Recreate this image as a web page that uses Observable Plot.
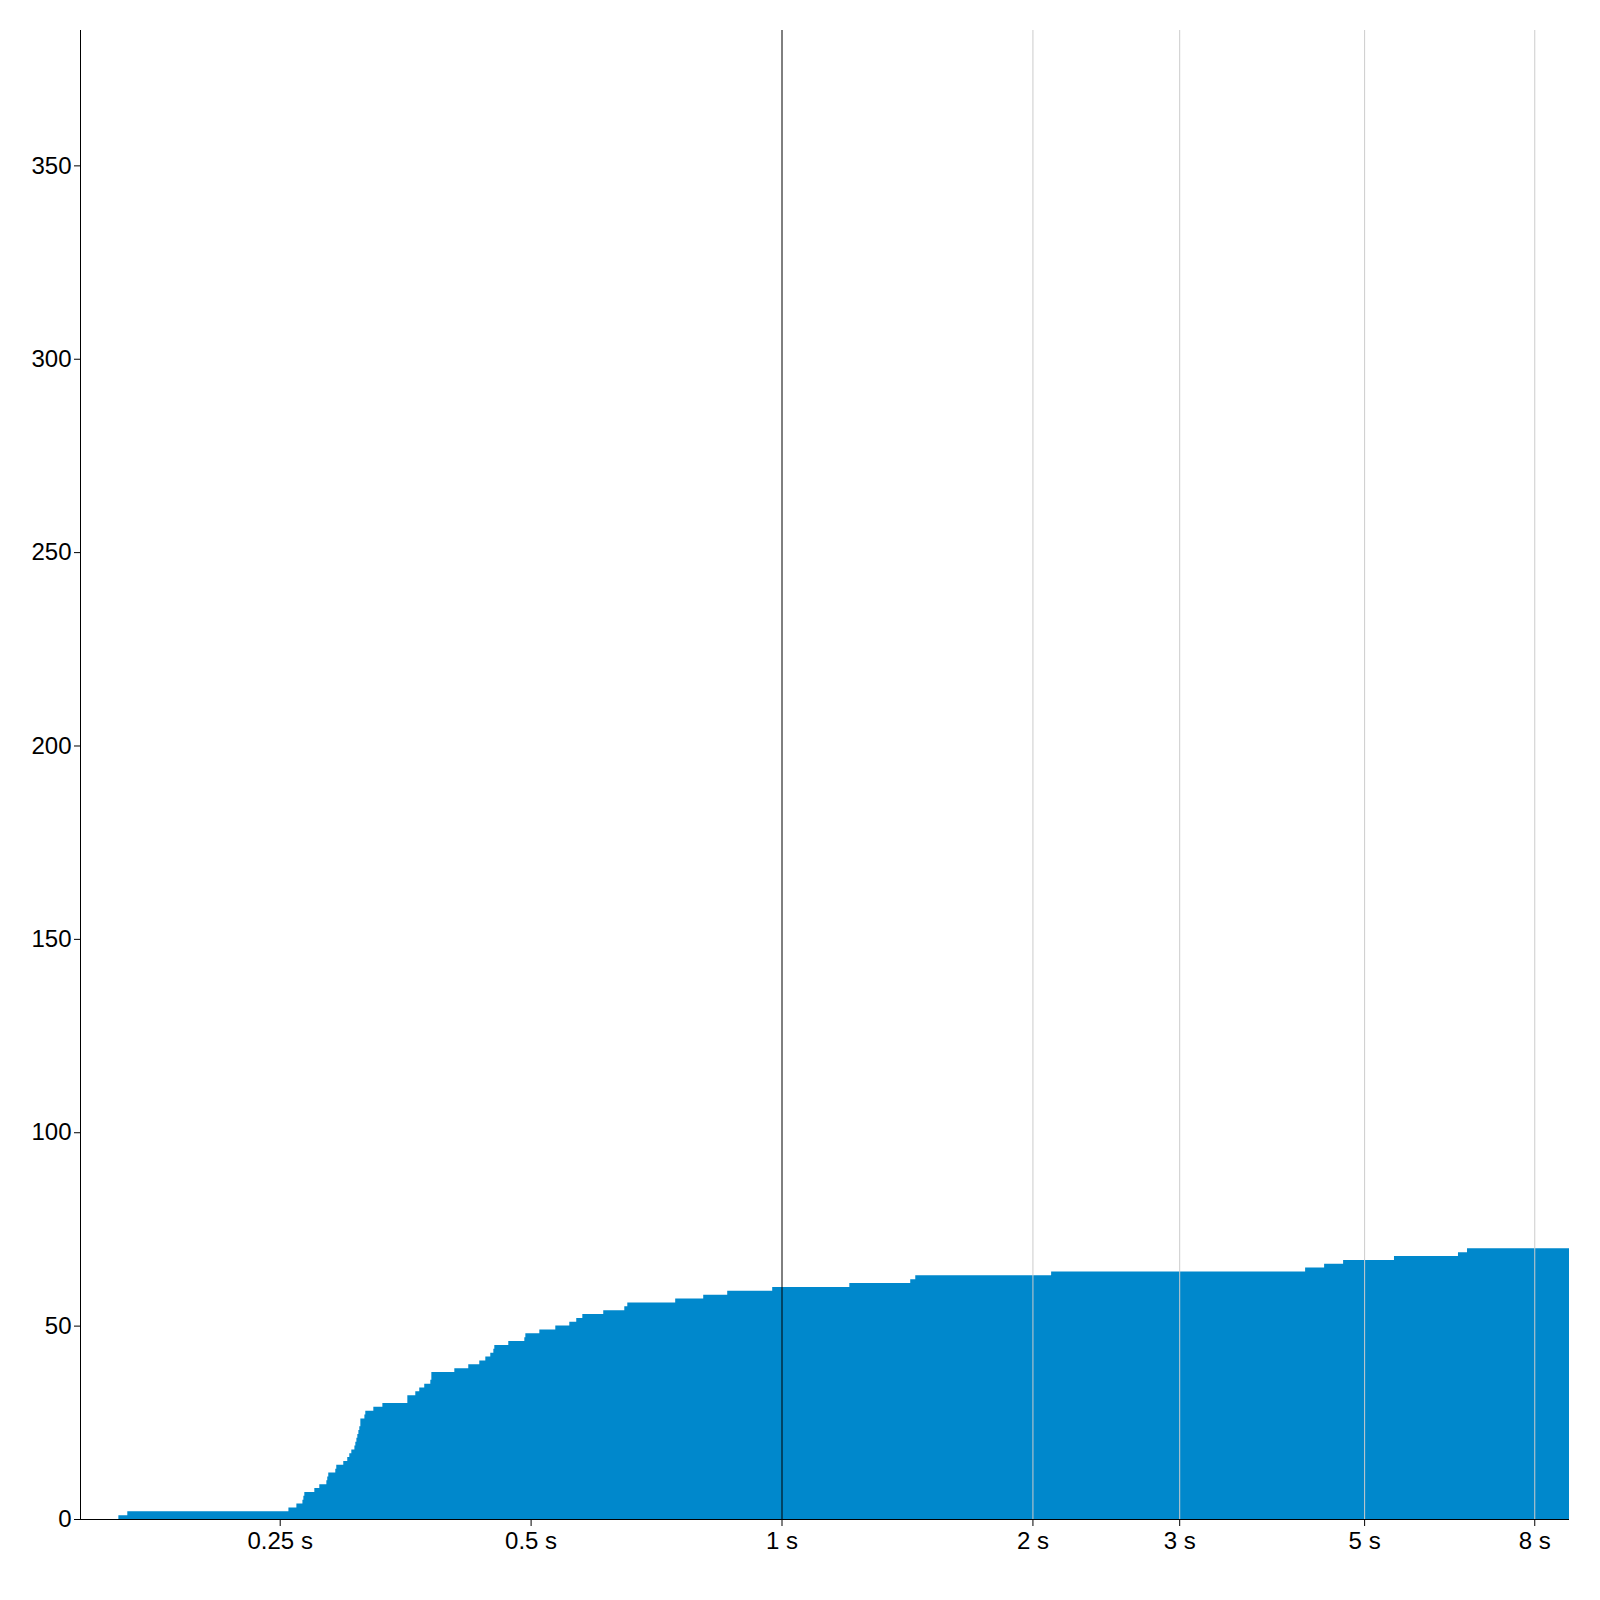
<!DOCTYPE html>
<html><head><meta charset="utf-8">
<script src="https://cdn.jsdelivr.net/npm/d3@7"></script>
<script src="https://cdn.jsdelivr.net/npm/@observablehq/plot@0.6"></script>
<style>body{margin:0;background:#fff}</style>
</head><body><div id="chart"></div>
<script>
const durations = [0.1601,0.1641,0.2561,0.2618,0.2662,0.2669,0.2676,0.2751,0.2789,0.2844,0.2851,0.2859,0.2915,0.2923,0.2980,0.3013,0.3030,0.3047,0.3073,0.3081,0.3090,0.3098,0.3107,0.3115,0.3124,0.3159,0.3167,0.3238,0.3320,0.3557,0.3636,0.3676,0.3727,0.3790,0.3801,0.4050,0.4209,0.4339,0.4412,0.4473,0.4511,0.4523,0.4701,0.4914,0.4928,0.5122,0.5353,0.5564,0.5672,0.5768,0.6111,0.6477,0.6531,0.7455,0.8055,0.8607,0.9746,1.206,1.427,1.447,2.106,4.248,4.477,4.718,5.430,6.480,6.644,8.806];
const counts = [1,2,3,4,5,6,7,8,9,10,11,12,13,14,15,16,17,18,19,20,21,22,23,24,26,27,28,29,30,32,33,34,35,36,38,39,40,41,42,43,44,45,46,47,48,49,50,51,52,53,54,55,56,57,58,59,60,61,62,63,64,65,66,67,68,69,70,70];
const xTicks = [0.25, 0.5, 1, 2, 3, 5, 8];
const xTickLabels = ["0.25 s", "0.5 s", "1 s", "2 s", "3 s", "5 s", "8 s"];
const gridTicks = [2, 3, 5, 8];
const refTick = [1];
const yTicks = [0, 50, 100, 150, 200, 250, 300, 350];
const xDomain = [0.144, 8.806];
const yDomain = [0, 385];

const data = durations.map((d, i) => ({duration: d, count: counts[i]}));
const xLabelData = xTicks.map((t, i) => ({t, label: xTickLabels[i]}));

const chart = Plot.plot({
  width: 1600, height: 1600,
  marginLeft: 80, marginRight: 31, marginTop: 30, marginBottom: 81,
  style: {fontFamily: "'Liberation Sans', Arial, sans-serif", fontSize: "24px", background: "#fff", color: "#000"},
  x: {type: "log", domain: xDomain},
  y: {domain: yDomain},
  marks: [
    Plot.areaY(data, {x: "duration", y: "count", curve: "step-after", fill: "#0088cc"}),
    Plot.ruleX(gridTicks, {stroke: "#cccccc", strokeWidth: 1}),
    Plot.ruleX(refTick, {stroke: "#000", strokeWidth: 1}),
    Plot.ruleY([0], {stroke: "#000"}),
    Plot.ruleX([xDomain[0]], {stroke: "#000"}),
    Plot.axisX({ticks: xTicks, tickFormat: () => "", label: null, tickSize: 7}),
    Plot.text(xLabelData, {x: "t", text: "label", frameAnchor: "bottom", lineAnchor: "top", dy: 12, fontSize: 24}),
    Plot.axisY({ticks: yTicks, label: null, tickSize: 6, tickPadding: 3, fontSize: 24})
  ]
});
document.getElementById("chart").appendChild(chart);
</script>
</body></html>
